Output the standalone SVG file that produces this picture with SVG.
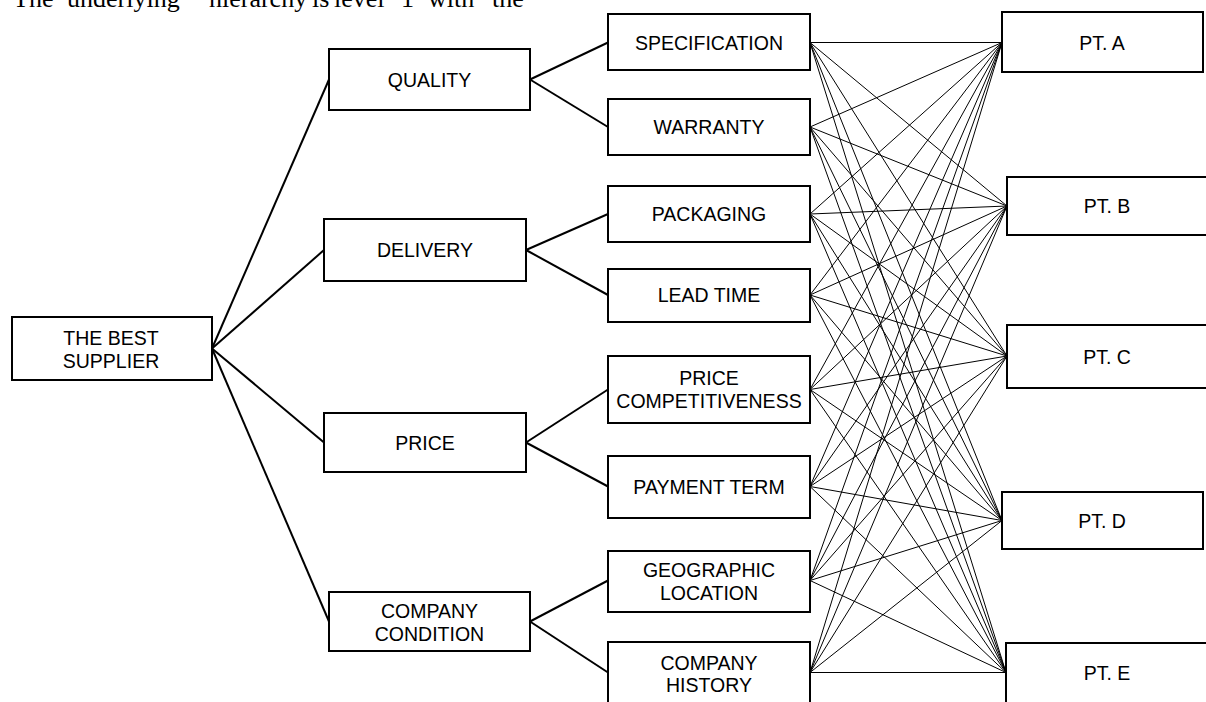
<svg xmlns="http://www.w3.org/2000/svg" width="1206" height="702" viewBox="0 0 1206 702">
  <style>
    .box { fill: #ffffff; stroke: #000000; stroke-width: 2; }
    .lbl { font-family: "Liberation Sans", Arial, sans-serif; font-size: 19.5px; fill: #000000; text-anchor: middle; }
    .tree line { stroke: #000000; stroke-width: 2; }
    .mesh line { stroke: #000000; stroke-width: 1; }
    .para { font-family: "Liberation Serif", "Times New Roman", serif; font-size: 26px; fill: #000000; }
  </style>

  <rect x="0" y="0" width="1206" height="702" fill="#ffffff"/>

  <!-- running paragraph line above the figure -->
  <text class="para" y="7"><tspan x="13">The</tspan><tspan x="67">underlying</tspan><tspan x="209">hierarchy</tspan><tspan x="312">is</tspan><tspan x="334">level</tspan><tspan x="401">1</tspan><tspan x="428">with</tspan><tspan x="492">the</tspan></text>

  <!-- connectors -->
  <g id="connectors">
    <g class="tree">
      <!-- goal to criteria -->
      <line x1="212" y1="348.5" x2="329" y2="79.5"/>
      <line x1="212" y1="348.5" x2="324" y2="250"/>
      <line x1="212" y1="348.5" x2="324" y2="442.5"/>
      <line x1="212" y1="348.5" x2="329" y2="621.5"/>
      <!-- criteria to sub-criteria -->
      <line x1="530" y1="79.5" x2="608" y2="42.5"/>
      <line x1="530" y1="79.5" x2="608" y2="127"/>
      <line x1="526" y1="250" x2="608" y2="214"/>
      <line x1="526" y1="250" x2="608" y2="295"/>
      <line x1="526" y1="442.5" x2="608" y2="389.5"/>
      <line x1="526" y1="442.5" x2="608" y2="486.5"/>
      <line x1="530" y1="621.5" x2="608" y2="580.5"/>
      <line x1="530" y1="621.5" x2="608" y2="672.5"/>
    </g>
    <g class="mesh">
      <!-- SPECIFICATION -->
      <line x1="810" y1="42.5" x2="1002" y2="42.5"/>
      <line x1="810" y1="42.5" x2="1007" y2="206"/>
      <line x1="810" y1="42.5" x2="1007" y2="356"/>
      <line x1="810" y1="42.5" x2="1002" y2="520.5"/>
      <line x1="810" y1="42.5" x2="1006" y2="672.5"/>
      <!-- WARRANTY -->
      <line x1="810" y1="127" x2="1002" y2="42.5"/>
      <line x1="810" y1="127" x2="1007" y2="206"/>
      <line x1="810" y1="127" x2="1007" y2="356"/>
      <line x1="810" y1="127" x2="1002" y2="520.5"/>
      <line x1="810" y1="127" x2="1006" y2="672.5"/>
      <!-- PACKAGING -->
      <line x1="810" y1="214" x2="1002" y2="42.5"/>
      <line x1="810" y1="214" x2="1007" y2="206"/>
      <line x1="810" y1="214" x2="1007" y2="356"/>
      <line x1="810" y1="214" x2="1002" y2="520.5"/>
      <line x1="810" y1="214" x2="1006" y2="672.5"/>
      <!-- LEAD TIME -->
      <line x1="810" y1="295" x2="1002" y2="42.5"/>
      <line x1="810" y1="295" x2="1007" y2="206"/>
      <line x1="810" y1="295" x2="1007" y2="356"/>
      <line x1="810" y1="295" x2="1002" y2="520.5"/>
      <line x1="810" y1="295" x2="1006" y2="672.5"/>
      <!-- PRICE COMPETITIVENESS -->
      <line x1="810" y1="389.5" x2="1002" y2="42.5"/>
      <line x1="810" y1="389.5" x2="1007" y2="206"/>
      <line x1="810" y1="389.5" x2="1007" y2="356"/>
      <line x1="810" y1="389.5" x2="1002" y2="520.5"/>
      <line x1="810" y1="389.5" x2="1006" y2="672.5"/>
      <!-- PAYMENT TERM -->
      <line x1="810" y1="486.5" x2="1002" y2="42.5"/>
      <line x1="810" y1="486.5" x2="1007" y2="206"/>
      <line x1="810" y1="486.5" x2="1007" y2="356"/>
      <line x1="810" y1="486.5" x2="1002" y2="520.5"/>
      <line x1="810" y1="486.5" x2="1006" y2="672.5"/>
      <!-- GEOGRAPHIC LOCATION -->
      <line x1="810" y1="580.5" x2="1002" y2="42.5"/>
      <line x1="810" y1="580.5" x2="1007" y2="206"/>
      <line x1="810" y1="580.5" x2="1007" y2="356"/>
      <line x1="810" y1="580.5" x2="1002" y2="520.5"/>
      <line x1="810" y1="580.5" x2="1006" y2="672.5"/>
      <!-- COMPANY HISTORY -->
      <line x1="810" y1="672.5" x2="1002" y2="42.5"/>
      <line x1="810" y1="672.5" x2="1007" y2="206"/>
      <line x1="810" y1="672.5" x2="1007" y2="356"/>
      <line x1="810" y1="672.5" x2="1002" y2="520.5"/>
      <line x1="810" y1="672.5" x2="1006" y2="672.5"/>
    </g>
  </g>

  <!-- goal -->
  <g id="best-supplier">
    <rect class="box" x="12" y="317" width="200" height="63"/>
    <text class="lbl" x="111"><tspan x="111" y="345">THE BEST</tspan><tspan x="111" y="367.7">SUPPLIER</tspan></text>
  </g>

  <!-- criteria -->
  <g id="quality">
    <rect class="box" x="329" y="49" width="201" height="61"/>
    <text class="lbl" x="429.5" y="86.7">QUALITY</text>
  </g>
  <g id="delivery">
    <rect class="box" x="324" y="219" width="202" height="62"/>
    <text class="lbl" x="425" y="257.2">DELIVERY</text>
  </g>
  <g id="price">
    <rect class="box" x="324" y="413" width="202" height="59"/>
    <text class="lbl" x="425" y="449.7">PRICE</text>
  </g>
  <g id="company-condition">
    <rect class="box" x="329" y="592" width="201" height="59"/>
    <text class="lbl" x="429.5"><tspan x="429.5" y="618.3">COMPANY</tspan><tspan x="429.5" y="640.5">CONDITION</tspan></text>
  </g>

  <!-- sub-criteria -->
  <g id="specification">
    <rect class="box" x="608" y="14" width="202" height="56"/>
    <text class="lbl" x="709" y="49.5">SPECIFICATION</text>
  </g>
  <g id="warranty">
    <rect class="box" x="608" y="99" width="202" height="56"/>
    <text class="lbl" x="709" y="134">WARRANTY</text>
  </g>
  <g id="packaging">
    <rect class="box" x="608" y="186" width="202" height="56"/>
    <text class="lbl" x="709" y="221">PACKAGING</text>
  </g>
  <g id="lead-time">
    <rect class="box" x="608" y="269" width="202" height="53"/>
    <text class="lbl" x="709" y="302.3">LEAD TIME</text>
  </g>
  <g id="price-competitiveness">
    <rect class="box" x="608" y="356" width="202" height="67"/>
    <text class="lbl" x="709"><tspan x="709" y="385">PRICE</tspan><tspan x="709" y="407.7">COMPETITIVENESS</tspan></text>
  </g>
  <g id="payment-term">
    <rect class="box" x="608" y="456" width="202" height="62"/>
    <text class="lbl" x="709" y="494">PAYMENT TERM</text>
  </g>
  <g id="geographic-location">
    <rect class="box" x="608" y="551" width="202" height="61"/>
    <text class="lbl" x="709"><tspan x="709" y="577.3">GEOGRAPHIC</tspan><tspan x="709" y="600">LOCATION</tspan></text>
  </g>
  <g id="company-history">
    <rect class="box" x="608" y="642" width="202" height="62"/>
    <text class="lbl" x="709"><tspan x="709" y="670">COMPANY</tspan><tspan x="709" y="692.3">HISTORY</tspan></text>
  </g>

  <!-- alternatives -->
  <g id="pt-a">
    <rect class="box" x="1002" y="12" width="201" height="60"/>
    <text class="lbl" x="1102" y="49.5">PT. A</text>
  </g>
  <g id="pt-b">
    <rect class="box" x="1007" y="177" width="202" height="58"/>
    <text class="lbl" x="1107" y="213">PT. B</text>
  </g>
  <g id="pt-c">
    <rect class="box" x="1007" y="325" width="202" height="63"/>
    <text class="lbl" x="1107" y="363.5">PT. C</text>
  </g>
  <g id="pt-d">
    <rect class="box" x="1002" y="492" width="201" height="57"/>
    <text class="lbl" x="1102" y="527.5">PT. D</text>
  </g>
  <g id="pt-e">
    <rect class="box" x="1006" y="643" width="202" height="62"/>
    <text class="lbl" x="1107" y="680">PT. E</text>
  </g>
</svg>
